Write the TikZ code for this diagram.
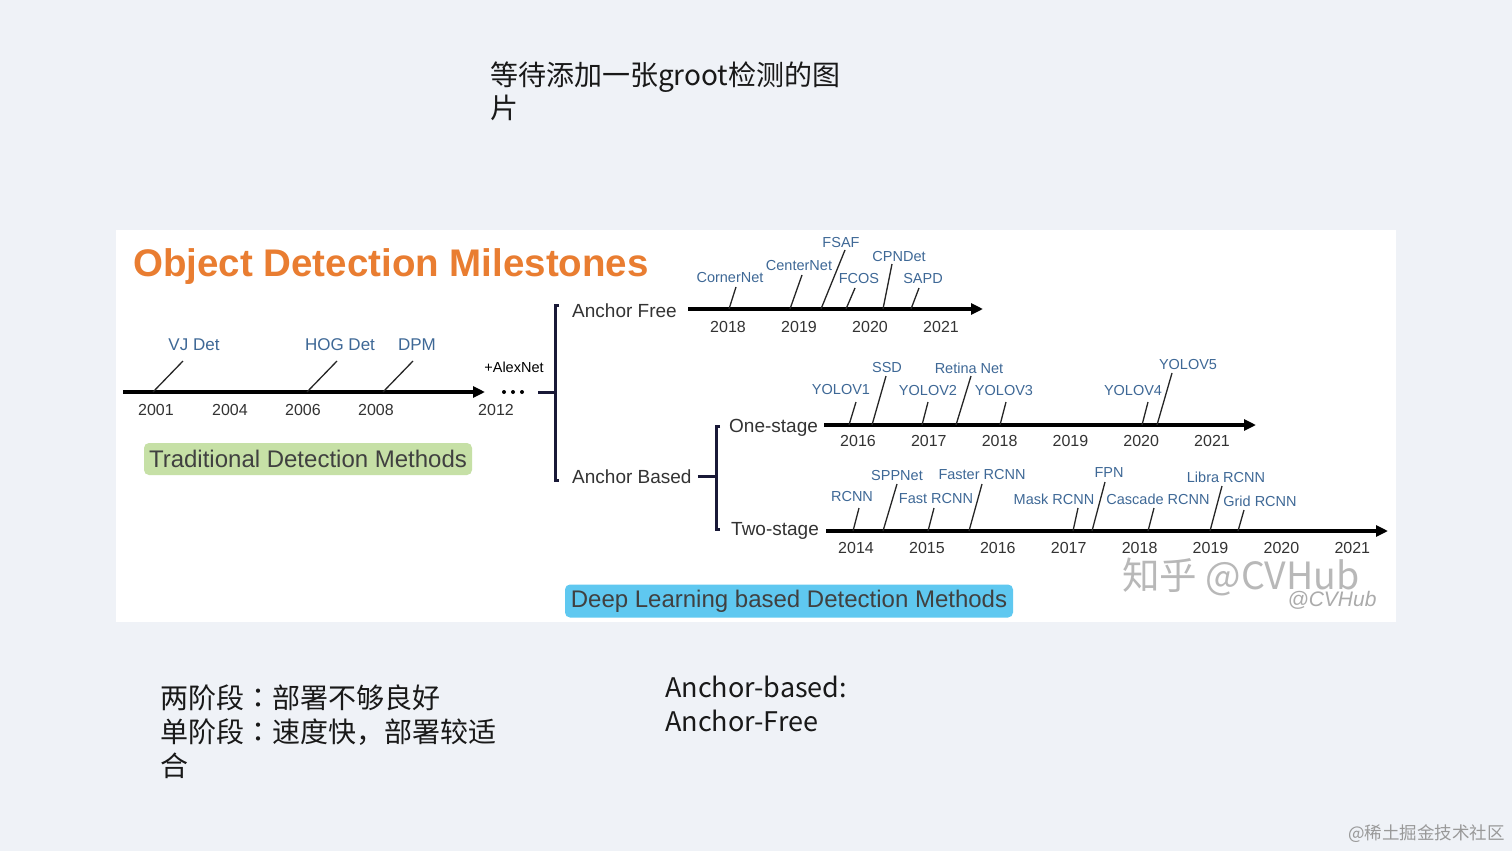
\documentclass[tikz,border=0pt]{standalone}
\usepackage{fontspec}
\setmainfont{Liberation Sans}
\newfontfamily\cjk{Noto Sans CJK SC}
\newfontfamily\cjkjp{Noto Sans CJK JP}
\usepackage{xcolor}
\definecolor{mdbg}{RGB}{239,242,247}
\definecolor{mdorange}{RGB}{233,125,49}
\definecolor{mdblue}{RGB}{62,104,150}
\definecolor{mdgreen}{RGB}{198,224,166}
\definecolor{mdcyan}{RGB}{95,200,240}
\definecolor{mdnavy}{RGB}{25,25,55}
\usetikzlibrary{arrows.meta, positioning}

\tikzset{
  tlaxis/.style={line width=4pt, draw=black, -{Triangle[length=12pt,width=11pt]}},
  mtick/.style={line width=1.3pt, draw=black!85},
  brace/.style={line width=3pt, draw=mdnavy},
  yearlbl/.style={font=\fontsize{16}{18}\selectfont, text=black!80, inner sep=0pt},
  mslbl/.style={font=\fontsize{14.5}{16}\selectfont, text=mdblue, inner sep=0pt},
  oldlbl/.style={font=\fontsize{17}{19}\selectfont, text=mdblue, inner sep=0pt},
  branch/.style={font=\fontsize{19}{22}\selectfont, text=black!80, inner sep=0pt, anchor=base west},
  era/.style={font=\fontsize{24}{28}\selectfont, text=black!75, rounded corners=5pt, inner sep=0pt},
  note/.style={font=\cjk\fontsize{28}{33}\selectfont, text=black!90, anchor=base west, inner sep=0pt},
}

\begin{document}
\begin{tikzpicture}[x=1pt, y=-1pt]
  \useasboundingbox (0,0) rectangle (1512,851);
  \fill[mdbg] (0,0) rectangle (1512,851);

  % Note on top
  \node[note] (todo1) at (490,85) {等待添加一张groot检测的图};
  \node[note] (todo2) at (490,118) {片};

  % Panel
  \fill[white] (116,230) rectangle (1396,622);
  \node[font=\bfseries\fontsize{38.5}{44}\selectfont, text=mdorange, inner sep=0pt, anchor=base]
       (title) at (391,276) {Object Detection Milestones};

  % Traditional timeline
  \coordinate (td0) at (123,392);
  \coordinate (td1) at (485,392);
  \draw[tlaxis] (td0) -- (td1);
  \foreach \yr/\x [count=\i] in {2001/156, 2004/230, 2006/303, 2008/376, 2012/496}
    \node[yearlbl] (tdy\i) at (\x,410) {\yr};
  \foreach \bx/\tx/\lx/\txt [count=\i] in {153/183/194/VJ Det, 307/337/340/HOG Det, 383/413/417/DPM}{
    \draw[mtick] (\bx,392) -- (\tx,361);
    \node[oldlbl] (td\i) at (\lx,345) {\txt};
  }
  \foreach \x in {504,513,522}
    \fill (\x,392) circle (2pt);
  \node[font=\fontsize{14.5}{16}\selectfont, inner sep=0pt] (alexnet) at (514,367) {+AlexNet};
  \node[era, fill=mdgreen, minimum width=328pt, minimum height=32pt] (trad) at (308,459)
       {Traditional Detection Methods};

  % Bracket: anchor free / anchor based
  \coordinate (b1top) at (555,305);
  \coordinate (b1bot) at (555,480);
  \draw[brace] ([xshift=4pt]b1top) -- (b1top) -- (b1bot) -- ([xshift=4pt]b1bot);
  \draw[brace] (538,392) -- (b1top |- 0,392);
  \node[branch] (af) at (572,317) {Anchor Free};
  \node[branch] (ab) at (572,483) {Anchor Based};

  % Bracket: one-stage / two-stage
  \coordinate (b2top) at (716,426);
  \coordinate (b2bot) at (716,529);
  \draw[brace] ([xshift=4pt]b2top) -- (b2top) -- (b2bot) -- ([xshift=4pt]b2bot);
  \draw[brace] ([xshift=6pt]ab.east) -- (ab.east -| b2top);
  \node[branch] (one) at (729,432) {One-stage};
  \node[branch] (two) at (731,535) {Two-stage};

  % Anchor free timeline
  \coordinate (af0) at (688,309);
  \coordinate (af1) at (983,309);
  \draw[tlaxis] (af0) -- (af1);
  \foreach \yr [count=\i] in {2018,2019,2020,2021}
    \node[yearlbl] (afy\i) at (657+71*\i,327) {\yr};
  \foreach \bx/\tx/\ty/\lx/\ly/\txt [count=\i] in {729/736/287/730/278/CornerNet,
      790/802/275/799/266/CenterNet, 821/845/250/841/243/FSAF, 846/855/288/859/279/FCOS,
      883/892/264/899/257/CPNDet, 911/919/288/923/279/SAPD}{
    \draw[mtick] (\bx,309) -- (\tx,\ty);
    \node[mslbl] (af\i) at (\lx,\ly) {\txt};
  }

  % One-stage timeline
  \coordinate (os0) at (824,425);
  \coordinate (os1) at (1256,425);
  \draw[tlaxis] (os0) -- (os1);
  \foreach \yr [count=\i] in {2016,2017,2018,2019,2020,2021}
    \node[yearlbl] (osy\i) at (787.2+70.8*\i,441) {\yr};
  \foreach \bx/\tx/\ty/\lx/\ly/\txt [count=\i] in {849/856/402/841/390/YOLOV1,
      872/886/376/887/368/SSD, 922/928/402/928/391/YOLOV2, 956/971/376/969/368/Retina Net,
      1000/1006/402/1004/391/YOLOV3, 1142/1148/402/1133/391/YOLOV4, 1157/1172/373/1188/365/YOLOV5}{
    \draw[mtick] (\bx,425) -- (\tx,\ty);
    \node[mslbl] (os\i) at (\lx,\ly) {\txt};
  }

  % Two-stage timeline
  \coordinate (ts0) at (826,531);
  \coordinate (ts1) at (1388,531);
  \draw[tlaxis] (ts0) -- (ts1);
  \foreach \yr [count=\i] in {2014,2015,2016,2017,2018,2019,2020,2021}
    \node[yearlbl] (tsy\i) at (785.1+70.9*\i,548) {\yr};
  \foreach \bx/\tx/\ty/\lx/\ly/\txt [count=\i] in {853/859/508/852/497/RCNN,
      883/897/484/897/476/SPPNet, 928/934/508/936/499/Fast RCNN, 969/982/484/982/475/Faster RCNN,
      1073/1078/508/1054/499/Mask RCNN, 1092/1105/482/1109/473/FPN,
      1148/1154/508/1158/499/Cascade RCNN, 1210/1222/486/1226/477/Libra RCNN,
      1238/1244/510/1260/501/Grid RCNN}{
    \draw[mtick] (\bx,531) -- (\tx,\ty);
    \node[mslbl] (ts\i) at (\lx,\ly) {\txt};
  }

  \node[era, fill=mdcyan, minimum width=448pt, minimum height=33pt] (deep) at (789,601)
       {Deep Learning based Detection Methods};

  % Watermarks
  \node[font=\cjk\fontsize{37.5}{40}\selectfont, text=black!28, inner sep=0pt] (zhihu) at (1241,577)
       {知乎 @CVHub};
  \node[font=\itshape\fontsize{21}{24}\selectfont, text=black!33, inner sep=0pt] (cvhub) at (1332,600)
       {@CVHub};

  % Notes below
  \node[note] (n1) at (160,708) {两阶段{\cjkjp ：}部署不够良好};
  \node[note] (n2) at (160,742) {单阶段{\cjkjp ：}速度快，部署较适};
  \node[note] (n3) at (160,776) {合};
  \node[note, font=\cjk\fontsize{27}{33}\selectfont] (n4) at (665,697) {Anchor-based:};
  \node[note, font=\cjk\fontsize{27}{33}\selectfont] (n5) at (665,731) {Anchor-Free};
  \node[font=\cjk\fontsize{17.5}{20}\selectfont, text=black!40, inner sep=0pt, anchor=base east]
       (juejin) at (1505,839) {@稀土掘金技术社区};
\end{tikzpicture}
\end{document}
